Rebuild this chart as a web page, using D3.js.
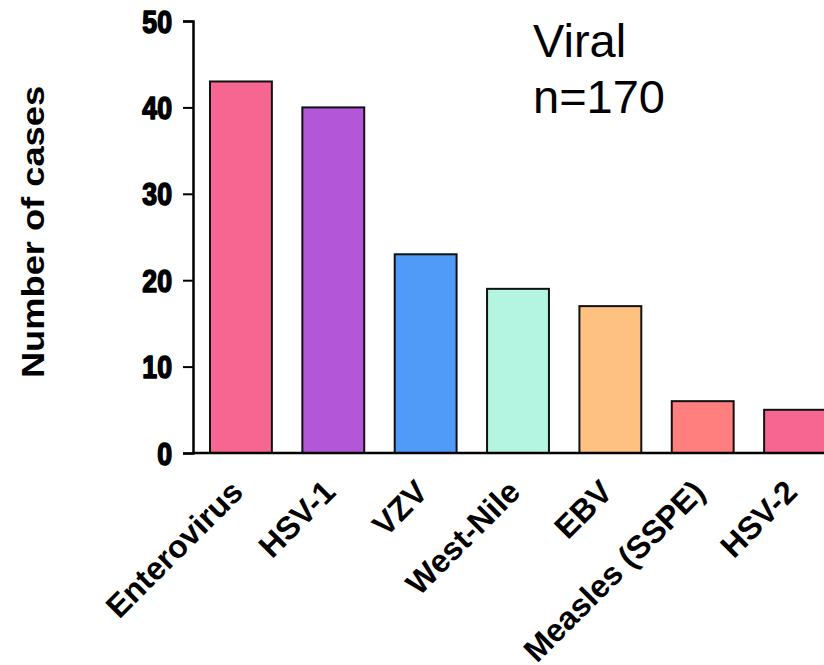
<!doctype html>
<html>
  <head>
    <script src="https://cdnjs.cloudflare.com/ajax/libs/d3/7.8.5/d3.min.js"></script>
    <style>
      body { margin: 0; background: #fff; }
      svg { display: block; }
      text { font-family: "Liberation Sans", Arial, sans-serif; fill: #000; }
    </style>
  </head>
  <body>
    <svg width="824" height="665"></svg>
    <script>
      var viruses = ["Enterovirus", "HSV-1", "VZV", "West-Nile", "EBV", "Measles (SSPE)", "HSV-2"];
      var cases = [43, 40, 23, 19, 17, 6, 5];
      var barColours = ["#f76591", "#b357d8", "#4f9bf7", "#b3f5e0", "#ffc182", "#ff7f7f", "#f76591"];
      var yTicks = [0, 10, 20, 30, 40, 50];

      var svg = d3.select("svg");

      var x = d3.scaleBand()
          .domain(viruses)
          .range([193, 843])
          .paddingInner(0.33)
          .paddingOuter(0.184);

      var y = d3.scaleLinear()
          .domain([0, 50])
          .range([453, 21]);

      // bars
      svg.append("g")
        .selectAll("rect")
        .data(viruses)
        .enter()
        .append("rect")
          .attr("x", d => x(d))
          .attr("y", (d, i) => y(cases[i]))
          .attr("width", x.bandwidth())
          .attr("height", (d, i) => y(0) - y(cases[i]))
          .style("fill", (d, i) => barColours[i])
          .style("stroke", "#111")
          .style("stroke-width", 2);

      // y axis
      var yAxis = svg.append("g")
          .attr("transform", "translate(193,0)")
          .call(d3.axisLeft(y).tickValues(yTicks).tickSize(10).tickPadding(8));
      yAxis.select(".domain").attr("stroke-width", 2.5);
      yAxis.selectAll(".tick line").attr("stroke-width", 2);
      yAxis.selectAll(".tick text")
          .attr("font-size", 31)
          .attr("font-weight", "bold")
          .attr("font-family", "Liberation Sans, Arial, sans-serif")
          .attr("dy", "0.36em")
          .attr("x", 0)
          .style("stroke", "#000")
          .style("stroke-width", 1.6)
          .style("stroke-linejoin", "round")
          .attr("transform", "translate(-21,0) scale(0.86,1)");

      // x axis (baseline only, no ticks)
      var xAxis = svg.append("g")
          .attr("transform", "translate(0," + y(0) + ")")
          .call(d3.axisBottom(x).tickSize(0).tickSizeOuter(0).tickFormat(""));
      xAxis.select(".domain").attr("stroke-width", 2.5).attr("d", "M193,0H824");

      // category labels
      svg.append("g")
        .selectAll("text")
        .data(viruses)
        .enter()
        .append("text")
          .attr("transform", d => "translate(" + (x(d) + x.bandwidth() / 2 + 4) + ",494) rotate(-45)")
          .attr("text-anchor", "end")
          .attr("font-size", 32)
          .attr("font-weight", "bold")
          .text(d => d);

      // y axis title
      svg.append("text")
          .attr("transform", "translate(44,232) scale(1,1.17) rotate(-90)")
          .attr("text-anchor", "middle")
          .attr("font-size", 31)
          .attr("font-weight", "bold")
          .text("Number of cases");

      // annotation
      svg.append("text")
          .attr("x", 533)
          .attr("y", 57)
          .attr("font-size", 47)
          .text("Viral");
      svg.append("text")
          .attr("x", 533)
          .attr("y", 113)
          .attr("font-size", 47)
          .text("n=170");
    </script>
  </body>
</html>
